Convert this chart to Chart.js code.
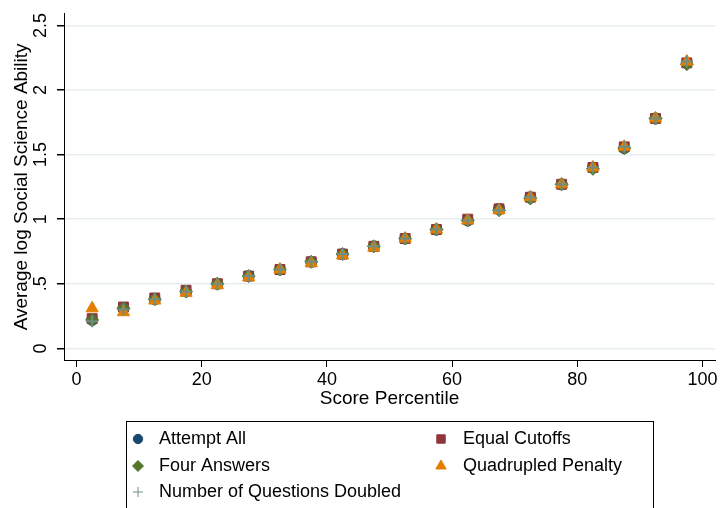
<!DOCTYPE html>
<html>
<head>
<meta charset="utf-8">
<title>Average log Social Science Ability</title>
<script src="https://cdn.jsdelivr.net/npm/chart.js@4/dist/chart.umd.min.js"></script>
<style>
  body { margin: 0; background: #fff; }
  canvas { display: block; }
</style>
</head>
<body>
<canvas id="miGrafica" width="723" height="508"></canvas>
<script>
// Datos
const percentiles = [2.5, 7.5, 12.5, 17.5, 22.5, 27.5, 32.5, 37.5, 42.5, 47.5, 52.5, 57.5, 62.5, 67.5, 72.5, 77.5, 82.5, 87.5, 92.5, 97.5];
const attemptAll = [0.22, 0.31, 0.38, 0.44, 0.50, 0.56, 0.61, 0.67, 0.73, 0.79, 0.85, 0.92, 0.99, 1.08, 1.17, 1.27, 1.40, 1.55, 1.78, 2.21];
const equalCutoffs = [0.23, 0.32, 0.39, 0.45, 0.50, 0.56, 0.61, 0.67, 0.73, 0.79, 0.85, 0.92, 1.00, 1.08, 1.17, 1.27, 1.40, 1.56, 1.78, 2.21];
const fourAnswers = [0.22, 0.31, 0.38, 0.44, 0.50, 0.56, 0.61, 0.67, 0.73, 0.79, 0.85, 0.92, 0.99, 1.07, 1.16, 1.27, 1.39, 1.55, 1.78, 2.20];
const quadrupledPenalty = [0.31, 0.28, 0.37, 0.43, 0.49, 0.55, 0.61, 0.66, 0.72, 0.78, 0.85, 0.92, 0.99, 1.07, 1.17, 1.27, 1.40, 1.56, 1.78, 2.22];
const questionsDoubled = [0.21, 0.30, 0.38, 0.44, 0.50, 0.56, 0.61, 0.67, 0.73, 0.79, 0.85, 0.92, 0.99, 1.07, 1.17, 1.27, 1.40, 1.56, 1.78, 2.22];

// Marcas de los ejes
const xTicks = [0, 20, 40, 60, 80, 100];
const yTicks = [0, 0.5, 1, 1.5, 2, 2.5];
const yTickLabels = ['0', '.5', '1', '1.5', '2', '2.5'];

const fuente = '"Liberation Sans", Arial, Helvetica, sans-serif';

// Convertir a puntos {x, y}
const aPuntos = (valores) => valores.map((v, i) => ({ x: percentiles[i], y: v }));

// Series (el orden del array es el orden de la leyenda)
const series = [
    { label: 'Attempt All', data: aPuntos(attemptAll), color: '#1a476f', pointStyle: 'circle', radius: 5.5, borderWidth: 1, order: 4 },
    { label: 'Equal Cutoffs', data: aPuntos(equalCutoffs), color: '#90353b', pointStyle: 'rect', radius: 7, borderWidth: 1, order: 3 },
    { label: 'Four Answers', data: aPuntos(fourAnswers), color: '#55752f', pointStyle: 'rectRot', radius: 6.5, borderWidth: 1, order: 2 },
    { label: 'Quadrupled Penalty', data: aPuntos(quadrupledPenalty), color: '#e37e00', pointStyle: 'triangle', radius: 7, borderWidth: 1, order: 1 },
    { label: 'Number of Questions Doubled', data: aPuntos(questionsDoubled), color: '#6e8e84', pointStyle: 'cross', radius: 6, borderWidth: 2, order: 0 }
];

// Leyenda en caja, dos columnas
const leyendaCaja = {
    id: 'leyendaCaja',
    afterDraw(chart) {
        const ctx = chart.ctx;
        ctx.save();
        ctx.strokeStyle = '#000';
        ctx.lineWidth = 1;
        ctx.strokeRect(126.5, 421.5, 527, 100);

        ctx.font = '18px ' + fuente;
        ctx.textBaseline = 'middle';
        ctx.textAlign = 'left';
        const filas = [439, 466, 492];
        const marcaX = [138, 441];
        const textoX = [159, 463];
        series.forEach((s, i) => {
            const fila = Math.floor(i / 2);
            const col = i % 2;
            ctx.fillStyle = s.color;
            ctx.strokeStyle = s.color;
            ctx.lineWidth = 1;
            Chart.helpers.drawPoint(ctx, {
                pointStyle: s.pointStyle,
                radius: s.radius * 0.85,
                rotation: 0,
                borderWidth: 1
            }, marcaX[col], filas[fila]);
            ctx.fillStyle = '#000';
            ctx.fillText(s.label, textoX[col], filas[fila]);
        });
        ctx.restore();
    }
};

const $grafica = document.getElementById('miGrafica').getContext('2d');

let miGrafica = new Chart($grafica, {
    type: 'scatter',
    data: {
        datasets: series.map(s => ({
            label: s.label,
            data: s.data,
            order: s.order,
            pointStyle: s.pointStyle,
            pointRadius: s.radius,
            pointHoverRadius: s.radius,
            pointBackgroundColor: s.color,
            pointBorderColor: s.color,
            pointBorderWidth: s.borderWidth,
            showLine: false
        }))
    },
    options: {
        responsive: false,
        animation: false,
        layout: { padding: { top: 12, right: 7, bottom: 100, left: 0 } },
        plugins: {
            legend: { display: false },
            tooltip: { enabled: false }
        },
        scales: {
            x: {
                type: 'linear',
                min: -2,
                max: 102,
                afterBuildTicks: (scale) => { scale.ticks = xTicks.map(v => ({ value: v })); },
                afterFit: (scale) => { scale.height = 48; },
                border: { color: '#000', width: 1 },
                grid: { drawOnChartArea: false, drawTicks: true, tickLength: 7, tickColor: '#000' },
                ticks: {
                    color: '#000',
                    font: { family: fuente, size: 18 },
                    padding: 2,
                    maxRotation: 0,
                    minRotation: 0
                },
                title: {
                    display: true,
                    text: 'Score Percentile',
                    color: '#000',
                    font: { family: fuente, size: 19, lineHeight: 1 },
                    padding: 0
                }
            },
            y: {
                type: 'linear',
                min: -0.09,
                max: 2.59,
                afterBuildTicks: (scale) => { scale.ticks = yTicks.map(v => ({ value: v })); },
                afterFit: (scale) => { scale.width = 64; },
                border: { color: '#000', width: 1 },
                grid: { color: '#e6eef2', lineWidth: 1.5, drawTicks: true, tickLength: 7, tickColor: '#000' },
                ticks: {
                    color: '#000',
                    font: { family: fuente, size: 18 },
                    padding: 3,
                    minRotation: 90,
                    maxRotation: 90,
                    crossAlign: 'center',
                    callback: (value) => {
                        const i = yTicks.indexOf(value);
                        return i >= 0 ? yTickLabels[i] : '';
                    }
                },
                title: {
                    display: true,
                    text: 'Average log Social Science Ability',
                    color: '#000',
                    font: { family: fuente, size: 19, lineHeight: 1 },
                    padding: 12
                }
            }
        }
    },
    plugins: [leyendaCaja]
});
</script>
</body>
</html>
